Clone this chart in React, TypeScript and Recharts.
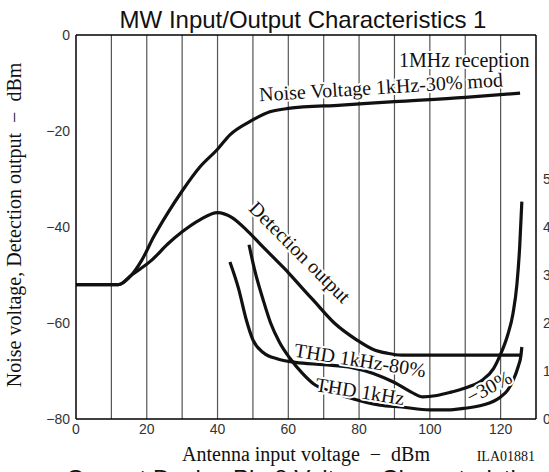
import React from "react";
import {
  LineChart,
  Line,
  XAxis,
  YAxis,
  CartesianGrid,
  ReferenceLine,
  ReferenceDot,
} from "recharts";

// ---- Data ----
const xTicks = [0, 20, 40, 60, 80, 100, 120];
const yLeftTicks = [-80, -60, -40, -20, 0];
const yRightTicks = [0, 1, 2, 3, 4, 5];
const gridXValues = [10, 20, 30, 40, 50, 60, 70, 80, 90, 100, 110, 120];
const gridYValues = [-70, -60, -50, -40, -30, -20, -10];

// Noise voltage (left axis, dBm)
const noiseX = [0, 12, 15.7, 18.6, 22, 26, 30, 35, 40, 43.5, 49.2, 54.8, 60, 75, 90, 110, 125.5];
const noiseY = [-52, -52, -50, -46.9, -42, -37, -32.5, -27.5, -23.8, -20.8, -18, -16, -15.3, -14.6, -13.9, -13, -12.1];

// Detection output (left axis, dBm)
const detX = [0, 12, 15.7, 21.4, 26, 30, 35, 40, 44, 48, 52, 56, 60, 64, 67, 73, 79.3, 84, 88, 92, 125.5];
const detY = [-52, -52, -50, -46.9, -43.5, -41, -38.5, -37, -38, -40.5, -43.5, -46.5, -49.5, -52.8, -55.2, -60, -63.5, -65.5, -66.3, -66.7, -66.7];

// THD 1kHz-80% mod (right axis, %)
const thd80X = [43.5, 46, 48, 50, 53, 57, 62, 70, 78, 84, 90, 95, 98, 102, 106, 111, 115, 118, 120, 122, 123.5, 124.6, 125.4, 126];
const thd80Y = [3.27, 2.7, 2.1, 1.65, 1.38, 1.25, 1.18, 1.13, 1.07, 0.95, 0.76, 0.55, 0.46, 0.49, 0.56, 0.67, 0.82, 1.05, 1.35, 1.75, 2.2, 2.8, 3.6, 4.53];

// THD 1kHz-30% mod (right axis, %)
const thd30X = [48.9, 50.5, 52.9, 55, 57.5, 60.5, 64, 67, 72, 76.5, 85.9, 92, 100, 105, 109.5, 115, 119.8, 122, 123.5, 125, 125.7, 126];
const thd30Y = [3.63, 3.1, 2.48, 2.0, 1.6, 1.26, 0.95, 0.74, 0.57, 0.46, 0.29, 0.25, 0.19, 0.19, 0.22, 0.29, 0.45, 0.6, 0.8, 1.1, 1.3, 1.5];

const zip = (xs: number[], ys: number[]) => xs.map((x, i) => ({ x, y: ys[i] }));
const noiseData = zip(noiseX, noiseY);
const detData = zip(detX, detY);
const thd80Data = zip(thd80X, thd80Y);
const thd30Data = zip(thd30X, thd30Y);

// Annotations: [text, x, y(left axis), rotation]
const annotations: [string, number, number, number][] = [
  ["1MHz reception", 109.7, -5.3, 0],
  ["Noise Voltage 1kHz-30% mod", 86.2, -10.8, -3.5],
  ["Detection output", 63.3, -45.2, 45],
  ["THD 1kHz-80%", 80.3, -67.7, 9],
  ["THD 1kHz", 80.3, -74.2, 9],
  ["\u221230%", 116.7, -73.3, -28],
];

const SERIF = "'Liberation Serif', 'Times New Roman', serif";
const SANS = "'Liberation Sans', Arial, sans-serif";

const fmtMinus = (v: number) => (v < 0 ? "\u2212" + Math.abs(v) : String(v));

const Anno = (props: any) => {
  const { viewBox, annoText, rot } = props;
  if (!viewBox) return null;
  const cx = viewBox.x + (viewBox.width || 0) / 2;
  const cy = viewBox.y + (viewBox.height || 0) / 2;
  return (
    <text
      x={cx}
      y={cy}
      textAnchor="middle"
      dominantBaseline="central"
      transform={`rotate(${rot} ${cx} ${cy})`}
      fontFamily={SERIF}
      fontSize={20}
      fill="#111"
      stroke="#fff"
      strokeWidth={4}
      paintOrder="stroke"
      strokeLinejoin="round"
    >
      {annoText}
    </text>
  );
};

export default function App() {
  return (
    <div
      style={{
        position: "absolute",
        left: 0,
        top: 0,
        width: 549,
        height: 472,
        overflow: "hidden",
        background: "#fff",
      }}
    >
      <LineChart
        width={549}
        height={500}
        margin={{ top: 35, right: 0, bottom: 51, left: 0 }}
      >
        <CartesianGrid
          stroke="#555"
          strokeWidth={1.2}
          horizontalValues={gridYValues}
          verticalValues={gridXValues}
        />
        <XAxis
          dataKey="x"
          type="number"
          domain={[0, 130]}
          ticks={xTicks}
          allowDataOverflow
          tickLine={false}
          tickSize={0}
          tickMargin={5}
          height={30}
          axisLine={{ stroke: "#000", strokeWidth: 1.5 }}
          tick={{ fontFamily: SANS, fontSize: 14, fill: "#333" }}
        />
        <YAxis
          yAxisId="left"
          type="number"
          domain={[-80, 0]}
          ticks={yLeftTicks}
          tickFormatter={fmtMinus}
          allowDataOverflow
          width={76}
          tickLine={false}
          tickSize={0}
          tickMargin={6}
          axisLine={{ stroke: "#000", strokeWidth: 1.5 }}
          tick={{ fontFamily: SANS, fontSize: 14, fill: "#333" }}
        />
        <YAxis
          yAxisId="right"
          orientation="right"
          type="number"
          domain={[0, 8]}
          ticks={yRightTicks}
          allowDataOverflow
          width={13}
          tickLine={false}
          tickSize={0}
          tickMargin={7}
          axisLine={{ stroke: "#000", strokeWidth: 1.5 }}
          tick={{ fontFamily: SANS, fontSize: 14, fill: "#333", textAnchor: "start" }}
        />
        <ReferenceLine yAxisId="left" y={0} stroke="#000" strokeWidth={1.5} ifOverflow="visible" />

        <Line yAxisId="left" data={noiseData} dataKey="y" type="monotone" stroke="#111" strokeWidth={3.2} dot={false} isAnimationActive={false} />
        <Line yAxisId="left" data={detData} dataKey="y" type="monotone" stroke="#111" strokeWidth={3.2} dot={false} isAnimationActive={false} />
        <Line yAxisId="right" data={thd80Data} dataKey="y" type="monotone" stroke="#111" strokeWidth={3.2} dot={false} isAnimationActive={false} />
        <Line yAxisId="right" data={thd30Data} dataKey="y" type="monotone" stroke="#111" strokeWidth={3.2} dot={false} isAnimationActive={false} />

        {annotations.map(([text, x, y, rot]) => (
          <ReferenceDot
            key={text}
            yAxisId="left"
            x={x}
            y={y}
            r={1}
            fill="none"
            stroke="none"
            ifOverflow="visible"
            label={<Anno annoText={text} rot={rot} />}
          />
        ))}
      </LineChart>

      <svg
        width={549}
        height={472}
        style={{ position: "absolute", left: 0, top: 0, pointerEvents: "none" }}
      >
        <text x={303} y={28} textAnchor="middle" fontFamily={SANS} fontSize={24} fill="#111">
          MW Input/Output Characteristics 1
        </text>
        <text
          transform="translate(21 225) rotate(-90)"
          textAnchor="middle"
          fontFamily={SERIF}
          fontSize={20}
          fill="#111"
        >
          {"Noise voltage, Detection output\u00a0\u00a0\u2212\u00a0\u00a0dBm"}
        </text>
        <text x={306} y={461} textAnchor="middle" fontFamily={SERIF} fontSize={20} fill="#111">
          {"Antenna input voltage\u00a0\u00a0\u2212\u00a0\u00a0dBm"}
        </text>
        <text x={535} y={461} textAnchor="end" fontFamily={SERIF} fontSize={14} fill="#111">
          ILA01881
        </text>
        <text x={303} y={487} textAnchor="middle" fontFamily={SANS} fontSize={24} fill="#111">
          Current Device Pin 8 Voltage Characteristics
        </text>
      </svg>
    </div>
  );
}
